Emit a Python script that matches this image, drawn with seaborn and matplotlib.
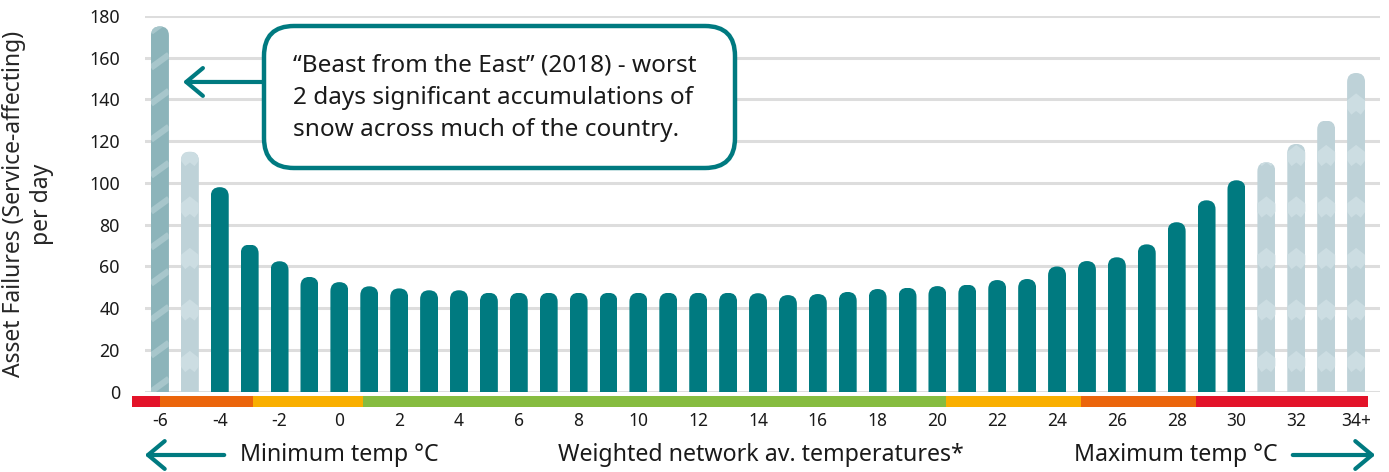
import numpy as np
import pandas as pd
import matplotlib
matplotlib.use('Agg')
import matplotlib.pyplot as plt
import matplotlib.transforms as mtransforms
from matplotlib.patches import FancyBboxPatch, Rectangle, FancyArrowPatch
import seaborn as sns

# data
temps = [str(t) for t in range(-6, 34)] + ['34+']
failures = [175, 115, 98, 70.5, 62.5, 55, 52.5, 50.5,
            49.5, 48.6, 48.6, 47.4, 47.4, 47.4, 47.4, 47.4, 47.4, 47.4, 47.4, 47.4,
            47.2, 46.3, 46.8, 47.8, 49.2, 49.8, 50.6, 51.3, 53.5, 54, 60,
            62.6, 64.4, 70.6, 81.2, 91.7, 101.3, 109.9, 118.7, 129.9, 152.7]
tick_labels = temps[::2]
# bars with a pattern: first one is the 2018 outlier, the others are extrapolated
bar_kind = ['stripe', 'chevron'] + ['solid'] * 35 + ['chevron'] * 4
# temperature band under the axis (edges in bar index units)
band_edges = [-0.95, 0.0, 3.1, 6.8, 26.3, 30.8, 34.65, 40.4]
band_colors = ['#E31329', '#EB650B', '#F9AF00', '#86BC40', '#F9AF00', '#EB650B', '#E31329']

TEAL = '#007A80'
kind_color = {'solid': TEAL, 'stripe': '#8CB4BA', 'chevron': '#BED2D8'}
kind_light = {'stripe': '#A7C6CB', 'chevron': '#CCDDE2'}

sns.set_style('white')
plt.rcParams['font.family'] = ['Noto Sans', 'DejaVu Sans']
plt.rcParams['text.color'] = '#1A1A1A'

W, H = 1389, 472
fig = plt.figure(figsize=(W / 100, H / 100), dpi=100)
ax = fig.add_axes([145 / W, (H - 391.7) / H, (1380 - 145) / W, (391.7 - 16) / H])

df = pd.DataFrame({'temp': temps, 'failures': failures, 'kind': bar_kind})
pal = {t: kind_color[k] for t, k in zip(temps, bar_kind)}
sns.barplot(data=df, x='temp', y='failures', hue='temp', palette=pal, order=temps,
            legend=False, width=0.6, saturation=1, ax=ax, zorder=3)

ax.set_xlim(-0.5, 40.8)
ax.set_ylim(0, 180)
ax.set_yticks(range(0, 181, 20))
ax.set_xticks(range(0, len(temps), 2))
ax.set_xticklabels(tick_labels)
ax.yaxis.grid(True, color='#DDDDDD', linewidth=2.2, zorder=0)
ax.set_axisbelow(True)
for s in ax.spines.values():
    s.set_visible(False)
ax.tick_params(axis='y', length=0, pad=18, labelsize=12.8, colors='#1A1A1A')
ax.tick_params(axis='x', length=0, pad=14.5, labelsize=12.5, colors='#1A1A1A')
ax.set_xlabel('')
ax.set_ylabel('Asset Failures (Service-affecting)\nper day', fontsize=16.5, linespacing=1.2)
ax.yaxis.set_label_coords(-0.074, 0.5)

# pixel scale of the data units, used for round tops and patterns
px_x = (1380 - 145) / (40.8 + 0.5)
px_y = (391.7 - 16) / 180
aspect = px_x / px_y

for p in list(ax.patches):
    x0, w, h = p.get_x(), p.get_width(), p.get_height()
    idx = int(round(x0 + w / 2))
    kind = bar_kind[idx]
    rx = w / 2 * 0.999
    ry = rx * aspect
    clip = FancyBboxPatch((x0, -ry), w, h + ry,
                          boxstyle=f'round,pad=0,rounding_size={rx}',
                          mutation_aspect=aspect, transform=ax.transData)
    p.set_clip_path(clip)
    p.set_linewidth(0)
    if kind == 'stripe':
        period = 36 / px_y
        rise = 13 / px_y
        for y0 in np.arange(-period, h + period, period):
            ln, = ax.plot([x0, x0 + w], [y0, y0 + rise], color=kind_light[kind],
                          lw=4.5, solid_capstyle='butt', zorder=4)
            ln.set_clip_path(clip)
    elif kind == 'chevron':
        period = 51.5 / px_y
        peak = 7 / px_y
        for y0 in np.arange(12, h + period, period):
            ln, = ax.plot([x0, x0 + w / 2, x0 + w], [y0, y0 + peak, y0],
                          color=kind_light[kind], lw=10, solid_joinstyle='miter',
                          solid_capstyle='butt', zorder=4)
            ln.set_clip_path(clip)

# coloured temperature band below the bars
trans = mtransforms.blended_transform_factory(ax.transData, ax.transAxes)
y_lo = -(407 - 391.7) / (391.7 - 16)
y_hi = -(395.5 - 391.7) / (391.7 - 16)
for a, b, c in zip(band_edges[:-1], band_edges[1:], band_colors):
    ax.add_patch(Rectangle((a, y_lo), b - a, y_hi - y_lo, transform=trans,
                           facecolor=c, edgecolor='none', clip_on=False))

# callout for the Beast from the East (box drawn in pixels)
pix = mtransforms.IdentityTransform()
fig.add_artist(FancyBboxPatch((264, H - 168), 471, 142,
                              boxstyle='round,pad=0,rounding_size=30',
                              facecolor='white', edgecolor=TEAL, linewidth=3.2,
                              transform=pix, zorder=5))
fig.text(293 / W, 1 - 98 / H,
         '\u201cBeast from the East\u201d (2018) - worst\n2 days significant accumulations of\nsnow across much of the country.',
         ha='left', va='center', multialignment='left', fontsize=17.5, linespacing=1.47,
         zorder=6)
ax.annotate('', xy=(0.77, 148.4), xycoords='data',
            xytext=(264, H - 82), textcoords='figure pixels',
            arrowprops=dict(arrowstyle='->,head_length=0.6,head_width=0.5', color=TEAL,
                            lw=3, shrinkA=0, shrinkB=0, mutation_scale=20,
                            capstyle='round', joinstyle='round'))

# bottom row: min / max temp arrows and caption
yb = 1 - 455 / H
fig.add_artist(FancyArrowPatch((227 / W, yb), (142 / W, yb), transform=fig.transFigure,
                               arrowstyle='->,head_length=0.6,head_width=0.5', color=TEAL,
                               lw=3, mutation_scale=20, capstyle='round', joinstyle='round'))
fig.add_artist(FancyArrowPatch((1290 / W, yb), (1378 / W, yb), transform=fig.transFigure,
                               arrowstyle='->,head_length=0.6,head_width=0.5', color=TEAL,
                               lw=3, mutation_scale=20, capstyle='round', joinstyle='round'))
fig.text(240 / W, yb, 'Minimum temp \u00b0C', ha='left', va='center', fontsize=16.7)
fig.text(558 / W, yb, 'Weighted network av. temperatures*', ha='left', va='center', fontsize=16.7)
fig.text(1278 / W, yb, 'Maximum temp \u00b0C', ha='right', va='center', fontsize=16.7)

fig.savefig('out.png', dpi=100)
